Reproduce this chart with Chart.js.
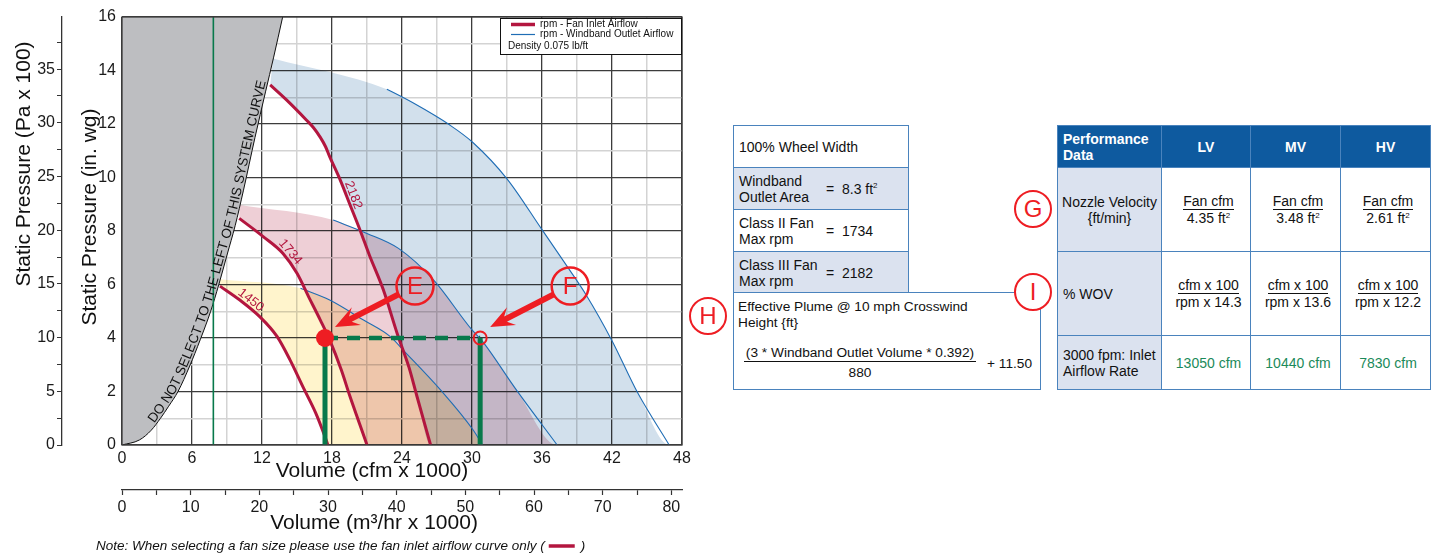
<!DOCTYPE html>
<html>
<head>
<meta charset="utf-8">
<title>Fan performance curve</title>
<script src="https://cdn.jsdelivr.net/npm/chart.js@4.4.1/dist/chart.umd.min.js"></script>
<style>
  body { margin: 0; background: #fff; font-family: "Liberation Sans", Arial, sans-serif; color: #111; }
  #page { position: relative; width: 1433px; height: 554px; overflow: hidden; }
  #chart { position: absolute; left: 0; top: 0; }
  .grid { position: absolute; border-collapse: collapse; table-layout: fixed; font-size: 14px; line-height: 16px; }
  .grid td { border: 1.5px solid #4a83bd; padding: 0 0 0 5px; vertical-align: middle; }
  .grid .alt { background: #dbe2ef; }
  #t1 { left: 733px; top: 125px; width: 176px; }
  #t1 tr { height: 42px; }
  .pair { display: flex; align-items: center; }
  .pair span:first-child { width: 87px; }
  #plume { position: absolute; left: 733px; top: 292px; width: 308px; height: 98px; border: 1.5px solid #4a83bd;
           box-sizing: border-box; font-size: 13.7px; line-height: 16px; background: #fff; white-space: nowrap; }
  #plume .head { position: absolute; left: 4px; top: 6px; }
  #plume .num { position: absolute; left: 0; top: 52px; width: 252px; text-align: center; }
  #plume .num span { display: inline-block; border-bottom: 1px solid #111; line-height: 16px; padding: 0 2px; }
  #plume .den { position: absolute; left: 0; top: 72px; width: 252px; text-align: center; }
  #plume .plus { position: absolute; left: 253px; top: 63px; }
  #t2 { left: 1057px; top: 125px; width: 373px; }
  #t2 td { text-align: center; }
  #t2 td.first { text-align: left; background: #dbe2ef; }
  #t2 td.mid { text-align: center; background: #dbe2ef; padding: 0; }
  #t2 th { background: #0e5a9f; color: #fff; font-weight: bold; border: 1.5px solid #4a83bd; }
  #t2 th.first { text-align: left; padding-left: 5px; }
  .fr { display: inline-block; text-align: center; line-height: 17px; }
  .fr .n { display: inline-block; border-bottom: 1px solid #111; line-height: 15px; }
  .ok { color: #1b8a5a; }
  sup { font-size: 8px; vertical-align: top; position: relative; top: -3px; }
  .mark { position: absolute; width: 38px; height: 38px; border: 2.5px solid #ee1d23; border-radius: 50%;
          box-sizing: border-box; color: #ee1d23; font-size: 24px; text-align: center; line-height: 33px; background: #fff; }
</style>
</head>
<body>
<div id="page">
  <canvas id="chart" width="700" height="554"></canvas>

  <table id="t1" class="grid">
    <tr><td>100% Wheel Width</td></tr>
    <tr class="alt"><td><div class="pair"><span>Windband<br>Outlet Area</span><span>=&nbsp; 8.3 ft<sup>2</sup></span></div></td></tr>
    <tr><td><div class="pair"><span>Class II Fan<br>Max rpm</span><span>=&nbsp; 1734</span></div></td></tr>
    <tr class="alt"><td><div class="pair"><span>Class III Fan<br>Max rpm</span><span>=&nbsp; 2182</span></div></td></tr>
  </table>

  <div id="plume">
    <div class="head">Effective Plume @ 10 mph Crosswind<br>Height {ft}</div>
    <div class="num"><span>(3 * Windband Outlet Volume * 0.392)</span></div>
    <div class="den">880</div>
    <div class="plus">+ 11.50</div>
  </div>

  <table id="t2" class="grid">
    <colgroup><col style="width:104px"><col style="width:89px"><col style="width:90px"><col style="width:90px"></colgroup>
    <tr style="height:42px"><th class="first">Performance<br>Data</th><th>LV</th><th>MV</th><th>HV</th></tr>
    <tr style="height:84px">
      <td class="mid">Nozzle Velocity<br>{ft/min}</td>
      <td><div class="fr"><span class="n">Fan cfm</span><br>4.35 ft<sup>2</sup></div></td>
      <td><div class="fr"><span class="n">Fan cfm</span><br>3.48 ft<sup>2</sup></div></td>
      <td><div class="fr"><span class="n">Fan cfm</span><br>2.61 ft<sup>2</sup></div></td>
    </tr>
    <tr style="height:84px">
      <td class="first">% WOV</td>
      <td><div class="fr"><span class="n">cfm x 100</span><br>rpm x 14.3</div></td>
      <td><div class="fr"><span class="n">cfm x 100</span><br>rpm x 13.6</div></td>
      <td><div class="fr"><span class="n">cfm x 100</span><br>rpm x 12.2</div></td>
    </tr>
    <tr style="height:54px">
      <td class="first">3000 fpm: Inlet<br>Airflow Rate</td>
      <td class="ok">13050 cfm</td>
      <td class="ok">10440 cfm</td>
      <td class="ok">7830 cfm</td>
    </tr>
  </table>

  <div class="mark" style="left:1014px;top:190px">G</div>
  <div class="mark" style="left:1014px;top:273px">I</div>
  <div class="mark" style="left:689px;top:297px">H</div>
</div>

<script>
// ---- values (volume in cfm x 1000, pressure in in. wg) ----
const cfmMax = 48;
const wgMax = 16;
const m3hrPerCfm = 1.699;   // m3/hr per cfm
const paPerWg = 2.491;      // (Pa x 100) per in. wg

// system curve - do not select left of it
const systemCfm = [0, 1.5, 2.5, 3.3, 4.0, 4.8, 5.8, 6.7, 7.6, 8.3, 9.0, 9.7, 10.4, 11.4, 12.3, 13.0, 13.77];
const systemWg  = [0, 0.19, 0.55, 1.0, 1.45, 2.0, 2.95, 3.93, 5.0, 6.0, 7.1, 8.2, 9.5, 11.5, 13.2, 14.5, 16];

// fan inlet airflow curves
const rpmLabels = ['1450', '1734', '2182'];
const rpmLabelAt = [10.7, 14.0, 19.3];
const fan1450Cfm = [8.4, 10.1, 11.8, 13.3, 14.4, 15.5, 16.6, 17.4, 17.65];
const fan1450Wg  = [5.94, 5.42, 4.8, 4.05, 3.18, 2.18, 1.2, 0.31, 0];
const fan1734Cfm = [10.05, 12.1, 13.8, 15.0, 16.0, 17.0, 17.8, 18.8, 19.5, 20.4, 21.0];
const fan1734Wg  = [8.47, 7.79, 7.16, 6.42, 5.54, 4.67, 3.93, 2.8, 1.87, 0.75, 0];
const fan2182Cfm = [12.7, 14.1, 15.8, 16.4, 17.0, 17.45, 17.8, 18.7, 19.5, 20.4, 21.2, 22.4, 23.6, 24.6, 25.25, 26.45];
const fan2182Wg  = [13.46, 12.9, 12.15, 11.87, 11.5, 11.15, 10.78, 9.91, 9.03, 8.04, 7.1, 5.8, 4.15, 2.9, 1.87, 0];

// windband outlet airflow curves
const band1450Cfm = [15.3, 17.8, 20.7, 23.0, 24.1, 27.3, 30.1, 30.9];
const band1450Wg  = [5.86, 5.42, 4.67, 4.05, 3.55, 2.06, 0.56, 0];
const band1734Cfm = [18.1, 21.0, 23.7, 26.7, 30.0, 30.8, 33.8, 37.3];
const band1734Wg  = [8.41, 7.91, 7.35, 6.17, 4.3, 3.93, 2.06, 0];
const band2182Cfm = [22.7, 24.9, 28.1, 30.1, 33.0, 36.0, 38.2, 39.8, 42.0, 44.2, 46.9];
const band2182Wg  = [13.3, 12.8, 11.96, 11.3, 9.95, 8.05, 6.65, 5.6, 3.9, 1.95, 0];
// where the top edge of each shaded band meets the system curve (1450, 1734, 2182)
const bandCornerCfm = [8.4, 10.1, 12.95];
const bandCornerWg  = [6.2, 8.97, 14.45];

// 3000 fpm inlet rate of the HV nozzle (7830 cfm)
const hvInletCfm = 7.83;
// selection example: E = fan inlet point, F = windband outlet point
const selCfm = [17.4, 30.7];
const selWg = 4;

const legendLabels = ['rpm - Fan Inlet Airflow', 'rpm - Windband Outlet Airflow'];
const densityNote = 'Density 0.075 lb/ft';
const systemCaption = 'DO NOT SELECT TO THE LEFT OF THIS SYSTEM CURVE';
const noteText = 'Note: When selecting a fan size please use the fan inlet airflow curve only (';

const crimson = '#b3163f';
const blueLine = '#1f6db5';
const green = '#08794b';
const red = '#ee1d23';
const font = '"Liberation Sans", Arial, sans-serif';

function pts(xs, ys) {
  return xs.map((v, i) => ({ x: v, y: ys[i] }));
}
function band(i, bx, by, fx, fy) {
  const corner = [{ x: bandCornerCfm[i], y: bandCornerWg[i] }];
  return corner.concat(pts(bx, by), pts(fx, fy).reverse());
}
const hidden = { borderColor: 'transparent', borderWidth: 0, order: 10 };

// shaded bands are multiplied over the grid, like the printed overlays
const shadePlugin = {
  id: 'shades',
  beforeDatasetsDraw(chart) {
    const ctx = chart.ctx, a = chart.chartArea;
    ctx.save();
    ctx.beginPath();
    ctx.rect(a.left, a.top, a.right - a.left, a.bottom - a.top);
    ctx.clip();
    ctx.globalCompositeOperation = 'multiply';
    chart.data.datasets.forEach((ds, i) => {
      if (!ds.shade) return;
      const line = chart.getDatasetMeta(i).dataset;
      line.updateControlPoints(a, 'x');
      ctx.fillStyle = ds.shade;
      ctx.beginPath();
      line.path(ctx);
      ctx.closePath();
      ctx.fill();
    });
    ctx.restore();
  }
};

function samplePath(chart, index) {
  const p = chart.getDatasetMeta(index).data;
  const out = [];
  for (let i = 0; i < p.length - 1; i++) {
    const a = p[i], b = p[i + 1];
    const c1x = a.cp2x ?? a.x, c1y = a.cp2y ?? a.y, c2x = b.cp1x ?? b.x, c2y = b.cp1y ?? b.y;
    for (let k = 0; k < 12; k++) {
      const t = k / 12, u = 1 - t;
      out.push({
        x: u * u * u * a.x + 3 * u * u * t * c1x + 3 * u * t * t * c2x + t * t * t * b.x,
        y: u * u * u * a.y + 3 * u * u * t * c1y + 3 * u * t * t * c2y + t * t * t * b.y
      });
    }
  }
  out.push({ x: p[p.length - 1].x, y: p[p.length - 1].y });
  let s = 0;
  out.forEach((q, i) => {
    if (i > 0) s += Math.hypot(q.x - out[i - 1].x, q.y - out[i - 1].y);
    q.s = s;
  });
  return out;
}
function atArc(path, s) {
  let i = path.findIndex(q => q.s >= s);
  if (i < 1) i = 1;
  const a = path[i - 1], b = path[i];
  const t = (s - a.s) / ((b.s - a.s) || 1);
  return { x: a.x + t * (b.x - a.x), y: a.y + t * (b.y - a.y), ang: Math.atan2(b.y - a.y, b.x - a.x) };
}
function arcAtX(path, px) {
  let i = path.findIndex(q => q.x >= px);
  if (i < 1) i = 1;
  const a = path[i - 1], b = path[i];
  const t = (px - a.x) / ((b.x - a.x) || 1);
  return a.s + t * (b.s - a.s);
}
function textOnPath(ctx, path, text, s0, s1, off) {
  const chars = [...text];
  const widths = chars.map(c => ctx.measureText(c).width);
  const total = widths.reduce((m, w) => m + w, 0);
  const k = (s1 - s0) / total;
  let s = s0;
  ctx.textAlign = 'center';
  ctx.textBaseline = 'alphabetic';
  chars.forEach((c, i) => {
    const q = atArc(path, s + widths[i] * k / 2);
    ctx.save();
    ctx.translate(q.x + off * Math.sin(q.ang), q.y - off * Math.cos(q.ang));
    ctx.rotate(q.ang);
    ctx.scale(Math.min(k, 1.1), 1);
    ctx.fillText(c, 0, 0);
    ctx.restore();
    s += widths[i] * k;
  });
}
function callout(ctx, px, py, letter) {
  const cx = px + 90, cy = py - 52, r = 18.5;
  const tx = px + 10, ty = py - 11;
  const ang = Math.atan2(ty - cy, tx - cx);
  const ux = Math.cos(ang), uy = Math.sin(ang), nx = -uy, ny = ux;
  const sx = cx + ux * r, sy = cy + uy * r;
  const headLen = 24, headW = 10, w = 3;
  const bx = tx - ux * headLen, by = ty - uy * headLen;
  const mx = tx - ux * headLen * 0.72, my = ty - uy * headLen * 0.72;
  ctx.fillStyle = red;
  ctx.beginPath();
  ctx.moveTo(sx + nx * w, sy + ny * w);
  ctx.lineTo(mx + nx * w, my + ny * w);
  ctx.lineTo(bx + nx * headW, by + ny * headW);
  ctx.lineTo(tx, ty);
  ctx.lineTo(bx - nx * headW, by - ny * headW);
  ctx.lineTo(mx - nx * w, my - ny * w);
  ctx.lineTo(sx - nx * w, sy - ny * w);
  ctx.closePath();
  ctx.fill();
  ctx.strokeStyle = red;
  ctx.lineWidth = 2.5;
  ctx.beginPath();
  ctx.arc(cx, cy, r, 0, Math.PI * 2);
  ctx.stroke();
  ctx.font = '24px ' + font;
  ctx.textAlign = 'center';
  ctx.textBaseline = 'middle';
  ctx.fillText(letter, cx, cy + 1);
}

const overlayPlugin = {
  id: 'overlay',
  afterDatasetsDraw(chart) {
    const ctx = chart.ctx, a = chart.chartArea, x = chart.scales.x, y = chart.scales.y;
    ctx.save();
    ctx.strokeStyle = '#3c3c3c';
    ctx.lineWidth = 1.3;
    ctx.strokeRect(a.left, a.top, a.right - a.left, a.bottom - a.top);

    // caption along the system curve
    const sys = samplePath(chart, 3);
    ctx.fillStyle = '#111';
    ctx.font = '13.5px ' + font;
    textOnPath(ctx, sys, systemCaption, arcAtX(sys, x.getPixelForValue(2.9)), arcAtX(sys, x.getPixelForValue(12.5)), 2);

    // rpm labels on the fan curves
    ctx.fillStyle = crimson;
    ctx.font = '13px ' + font;
    rpmLabels.forEach((t, i) => {
      const path = samplePath(chart, 7 + i);
      const q = atArc(path, arcAtX(path, x.getPixelForValue(rpmLabelAt[i])));
      ctx.save();
      ctx.translate(q.x + 3 * Math.sin(q.ang), q.y - 3 * Math.cos(q.ang));
      ctx.rotate(q.ang);
      ctx.textAlign = 'center';
      ctx.textBaseline = 'alphabetic';
      ctx.fillText(t, 0, 0);
      ctx.restore();
    });

    callout(ctx, x.getPixelForValue(selCfm[0]), y.getPixelForValue(selWg), 'E');
    callout(ctx, x.getPixelForValue(selCfm[1]), y.getPixelForValue(selWg), 'F');
    ctx.restore();
  },
  afterDraw(chart) {
    const ctx = chart.ctx, a = chart.chartArea;
    ctx.save();
    // legend box
    const lw = 182, lh = 37, lx = a.right - lw, ly = a.top + 1;
    ctx.fillStyle = '#fff';
    ctx.fillRect(lx, ly, lw, lh);
    ctx.strokeStyle = '#111';
    ctx.lineWidth = 1;
    ctx.strokeRect(lx + 0.5, ly + 0.5, lw - 1, lh - 1);
    ctx.lineWidth = 3.5;
    ctx.strokeStyle = crimson;
    ctx.beginPath(); ctx.moveTo(lx + 11, ly + 6.5); ctx.lineTo(lx + 35, ly + 6.5); ctx.stroke();
    ctx.lineWidth = 1.2;
    ctx.strokeStyle = blueLine;
    ctx.beginPath(); ctx.moveTo(lx + 11, ly + 16.5); ctx.lineTo(lx + 35, ly + 16.5); ctx.stroke();
    ctx.fillStyle = '#111';
    ctx.font = '10px ' + font;
    ctx.textBaseline = 'middle';
    ctx.textAlign = 'left';
    ctx.fillText(legendLabels[0], lx + 40, ly + 6.5);
    ctx.fillText(legendLabels[1], lx + 40, ly + 16.5);
    ctx.fillText(densityNote, lx + 8, ly + 28.5);

    // axis titles
    ctx.font = '21px ' + font;
    ctx.textAlign = 'center';
    ctx.fillText('Volume (cfm x 1000)', a.left + 250, a.bottom + 26);
    ctx.fillText('Volume (m\u00b3/hr x 1000)', a.left + 252, a.bottom + 78);
    ctx.save();
    ctx.translate(24, a.top + 147);
    ctx.rotate(-Math.PI / 2);
    ctx.fillText('Static Pressure (Pa x 100)', 0, 0);
    ctx.restore();
    ctx.save();
    ctx.translate(a.left - 32, a.top + 200);
    ctx.rotate(-Math.PI / 2);
    ctx.fillText('Static Pressure (in. wg)', 0, 0);
    ctx.restore();

    // note under the chart
    ctx.font = 'italic 13.5px ' + font;
    ctx.textAlign = 'left';
    ctx.fillText(noteText, 96, 546);
    const nw = ctx.measureText(noteText).width;
    ctx.strokeStyle = crimson;
    ctx.lineWidth = 3.5;
    ctx.beginPath(); ctx.moveTo(96 + nw + 4, 546); ctx.lineTo(96 + nw + 30, 546); ctx.stroke();
    ctx.fillText(')', 96 + nw + 36, 546);
    ctx.restore();
  }
};

Chart.defaults.font.family = font;
Chart.defaults.color = '#1a1a1a';

new Chart(document.getElementById('chart'), {
  type: 'line',
  data: {
    datasets: [
      // 0-2 shaded windband areas (between fan curve and windband curve)
      { label: 'band 1450', data: band(0, band1450Cfm, band1450Wg, fan1450Cfm, fan1450Wg), shade: 'rgb(255,244,204)', ...hidden },
      { label: 'band 1734', data: band(1, band1734Cfm, band1734Wg, fan1734Cfm, fan1734Wg), shade: 'rgb(238,207,214)', ...hidden },
      { label: 'band 2182', data: band(2, band2182Cfm, band2182Wg, fan2182Cfm, fan2182Wg), shade: 'rgb(210,224,236)', ...hidden },
      // 3 system curve with the grey no-select zone
      { label: 'system', data: pts(systemCfm, systemWg), fill: 'end', backgroundColor: '#bdbec1',
        borderColor: '#111', borderWidth: 1, order: 9 },
      // 4-6 windband outlet airflow
      { label: 'wb 1450', data: pts(band1450Cfm, band1450Wg), borderColor: blueLine, borderWidth: 1.1, order: 8 },
      { label: 'wb 1734', data: pts(band1734Cfm, band1734Wg), borderColor: blueLine, borderWidth: 1.1, order: 8 },
      { label: 'wb 2182', data: pts(band2182Cfm, band2182Wg), borderColor: blueLine, borderWidth: 1.1, order: 8 },
      // 7-9 fan inlet airflow
      { label: 'fan 1450', data: pts(fan1450Cfm, fan1450Wg), borderColor: crimson, borderWidth: 3, order: 7 },
      { label: 'fan 1734', data: pts(fan1734Cfm, fan1734Wg), borderColor: crimson, borderWidth: 3, order: 7 },
      { label: 'fan 2182', data: pts(fan2182Cfm, fan2182Wg), borderColor: crimson, borderWidth: 3, order: 7 },
      // HV nozzle 3000 fpm line
      { label: 'hv', data: [{ x: hvInletCfm, y: 0 }, { x: hvInletCfm, y: wgMax }], borderColor: green, borderWidth: 1.6, order: 6 },
      // selection guides
      { label: 'E drop', data: [{ x: selCfm[0], y: 0 }, { x: selCfm[0], y: selWg }], borderColor: green, borderWidth: 5, order: 5 },
      { label: 'E to F', data: [{ x: selCfm[0], y: selWg }, { x: selCfm[1], y: selWg }], borderColor: green, borderWidth: 4.5,
        borderDash: [13, 9], order: 5 },
      { label: 'F drop', data: [{ x: selCfm[1], y: selWg }, { x: selCfm[1], y: 0 }], borderColor: green, borderWidth: 5, order: 5 },
      { label: 'E', data: [{ x: selCfm[0], y: selWg }], showLine: false, pointRadius: 9, pointBackgroundColor: red,
        pointBorderWidth: 0, pointBorderColor: red, order: 4 },
      { label: 'F', data: [{ x: selCfm[1], y: selWg }], showLine: false, pointRadius: 6.5, pointBackgroundColor: 'rgba(0,0,0,0)',
        pointBorderWidth: 2, pointBorderColor: red, order: 4 }
    ]
  },
  options: {
    responsive: false,
    devicePixelRatio: 1,
    animation: false,
    events: [],
    layout: { padding: { left: 0, right: 18, top: 17, bottom: 19 } },
    elements: { point: { radius: 0 }, line: { cubicInterpolationMode: 'monotone', fill: false } },
    plugins: { legend: { display: false }, tooltip: { enabled: false } },
    scales: {
      x: {
        type: 'linear', position: 'bottom', weight: 1, min: 0, max: cfmMax,
        ticks: { stepSize: 3, autoSkip: false, maxRotation: 0, padding: 4, includeBounds: false, font: { size: 16 },
                 callback: v => (v % 6 === 0 ? String(v) : '') },
        grid: { drawTicks: false, color: c => (c.tick.value % 6 === 0 ? '#3c3c3c' : '#d3d3d3'),
                lineWidth: c => (c.tick.value % 6 === 0 ? 1.3 : 1.5) },
        border: { display: false },
        afterFit: s => { s.height = 45; }
      },
      x2: {
        type: 'linear', position: 'bottom', weight: 2, min: 0, max: cfmMax * m3hrPerCfm,
        ticks: { stepSize: 5, autoSkip: false, maxRotation: 0, padding: 3, includeBounds: false, font: { size: 16 },
                 callback: v => (v % 10 === 0 ? String(v) : '') },
        grid: { drawOnChartArea: false, drawTicks: true, tickLength: 5, tickColor: '#333', tickWidth: 1.2 },
        border: { display: true, color: '#333', width: 1.3 },
        afterFit: s => { s.height = 45; }
      },
      y: {
        type: 'linear', position: 'left', weight: 1, min: 0, max: wgMax,
        ticks: { stepSize: 1, autoSkip: false, padding: 6, includeBounds: false, font: { size: 16 },
                 callback: v => (v % 2 === 0 ? String(v) : '') },
        grid: { drawTicks: false, color: c => (c.tick.value % 2 === 0 ? '#3c3c3c' : '#d3d3d3'),
                lineWidth: c => (c.tick.value % 2 === 0 ? 1.3 : 1.5) },
        border: { display: false },
        afterFit: s => { s.width = 60; }
      },
      y2: {
        type: 'linear', position: 'left', weight: 2, min: 0, max: wgMax * paPerWg,
        ticks: { stepSize: 2.5, autoSkip: false, padding: 2, includeBounds: false, font: { size: 16 },
                 callback: v => (v % 5 === 0 ? String(v) : '') },
        grid: { drawOnChartArea: false, drawTicks: true, tickLength: 5, tickColor: '#333', tickWidth: 1 },
        border: { display: true, color: '#333', width: 1.3 },
        afterFit: s => { s.width = 62; }
      }
    }
  },
  plugins: [shadePlugin, overlayPlugin]
});
</script>
</body>
</html>
